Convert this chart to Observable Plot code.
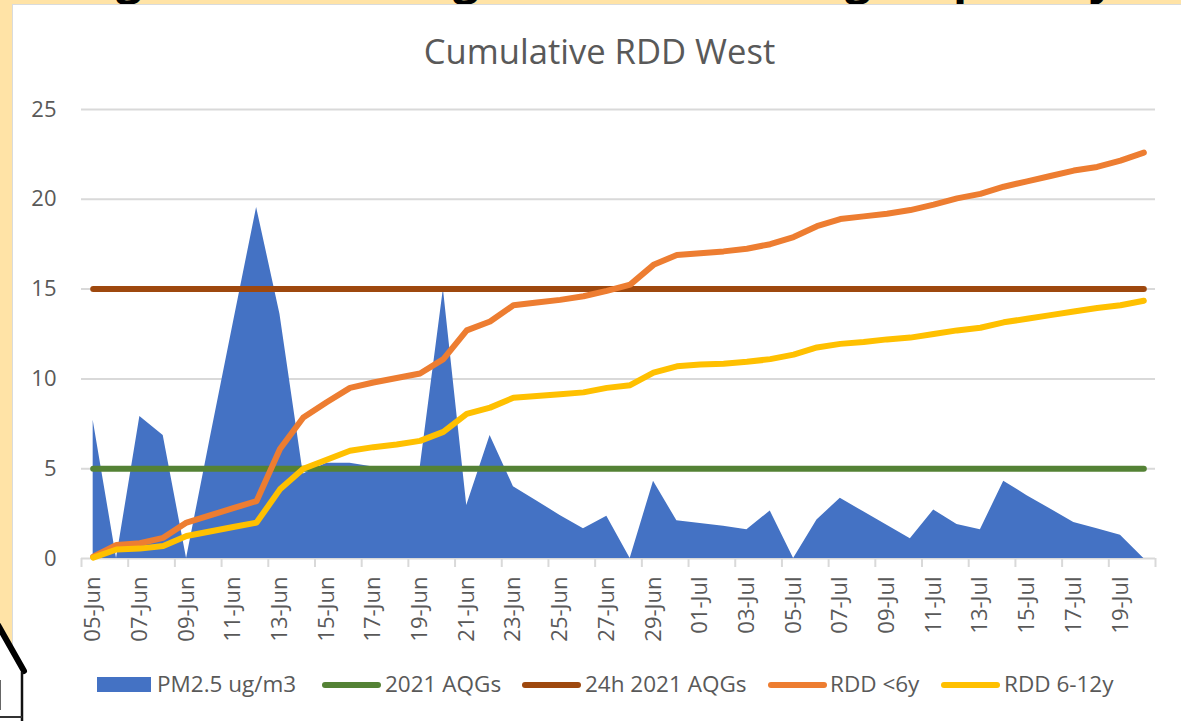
<!DOCTYPE html>
<html>
<head>
<meta charset="utf-8">
<script src="https://cdn.jsdelivr.net/npm/d3@7"></script>
<script src="https://cdn.jsdelivr.net/npm/@observablehq/plot@0.6"></script>
<style>
  html, body { margin: 0; padding: 0; background: #fff; }
  body { width: 1181px; height: 721px; overflow: hidden; position: relative; font-family: "Open Sans", sans-serif; color: #595959; }
  #strip-top { position: absolute; left: 0; top: 0; width: 1181px; height: 4px; background: #FFE3A6; overflow: hidden; }
  #strip-left { position: absolute; left: 0; top: 0; width: 12px; height: 721px; background: #FFE3A6; }
  #card { position: absolute; left: 12px; top: 4px; width: 1169px; height: 717px; background: #fff; border-left: 1.5px solid #d9dbdc; border-top: 1.5px solid #d9dbdc; box-sizing: border-box; }
  .clip { position: absolute; top: -47px; font: bold 46px "Open Sans", sans-serif; color: #000; line-height: 46px; }
  #title { position: absolute; left: 0; width: 1199px; top: 29px; text-align: center; font-size: 34.6px; line-height: 44px; color: #595959; }
  #chart { position: absolute; left: 0; top: 0; }
  #chart svg { background: transparent; }
  #house { position: absolute; left: 0; top: 610px; }
  .sw { position: absolute; }
  .line { height: 6px; top: 681.5px; border-radius: 3px; }
  .lab { position: absolute; top: 669px; font-size: 22.5px; line-height: 30px; color: #595959; white-space: nowrap; }
</style>
</head>
<body>
<div id="strip-left"></div>
<div id="card"></div>
<div id="strip-top">
  <span class="clip" style="left:116px">g</span>
  <span class="clip" style="left:453px">g</span>
  <span class="clip" style="left:845px">g</span>
  <span class="clip" style="left:953px">p</span>
  <span class="clip" style="left:1089px">y</span>
</div>
<div id="chart"></div>
<div id="title">Cumulative RDD West</div>
<svg id="house" width="32" height="111">
  <polygon points="0,13 25,61 22,111 0,111" fill="#fff"></polygon>
  <path d="M-2,15 L24,61" stroke="#000" stroke-width="6" stroke-linecap="round" fill="none"></path>
  <path d="M22,62 V111" stroke="#111" stroke-width="2.5" fill="none"></path>
  <path d="M0,107 H22" stroke="#333" stroke-width="2" fill="none"></path>
  <path d="M0,70 V100" stroke="#666" stroke-width="2" fill="none"></path>
</svg>
<div class="sw" style="left:97px;top:677px;width:54px;height:15px;background:#4472C4"></div>
<div class="lab" style="left:157px">PM2.5 ug/m3</div>
<div class="sw line" style="left:322px;width:59px;background:#548235"></div>
<div class="lab" style="left:385px">2021 AQGs</div>
<div class="sw line" style="left:522px;width:59px;background:#9E480E"></div>
<div class="lab" style="left:585px">24h 2021 AQGs</div>
<div class="sw line" style="left:768px;width:59px;background:#ED7D31"></div>
<div class="lab" style="left:830px">RDD &lt;6y</div>
<div class="sw line" style="left:941px;width:59px;background:#FFC000"></div>
<div class="lab" style="left:1004px">RDD 6-12y</div>
<script>
const firstDay = new Date(Date.UTC(2021, 5, 5));
const lastDay = new Date(Date.UTC(2021, 6, 20));
const days = d3.utcDay.range(firstDay, d3.utcDay.offset(lastDay, 1));

const pm25 = [7.7, 0, 7.9, 6.85, 0, 6.6, 13.1, 19.55, 13.6, 4.7, 5.3, 5.3, 5.1, 5.0, 5.0, 15.0,
  2.95, 6.85, 4.0, 3.2, 2.4, 1.65, 2.35, 0, 4.3, 2.1, 1.95, 1.8, 1.6, 2.65, 0, 2.15, 3.35, 2.6,
  1.85, 1.1, 2.7, 1.9, 1.6, 4.3, 3.5, 2.75, 2.0, 1.65, 1.3, 0];
const rddUnder6 = [0.1, 0.75, 0.85, 1.15, 2.0, 2.4, 2.8, 3.2, 6.1, 7.85, 8.7, 9.5, 9.8, 10.05, 10.3, 11.1,
  12.7, 13.2, 14.1, 14.25, 14.4, 14.6, 14.9, 15.25, 16.35, 16.9, 17.0, 17.1, 17.25, 17.5, 17.9, 18.5, 18.9, 19.05,
  19.2, 19.4, 19.7, 20.05, 20.3, 20.7, 21.0, 21.3, 21.6, 21.8, 22.15, 22.6];
const rdd6to12 = [0.05, 0.5, 0.55, 0.7, 1.25, 1.5, 1.75, 2.0, 3.85, 5.0, 5.5, 6.0, 6.2, 6.35, 6.55, 7.05,
  8.05, 8.4, 8.95, 9.05, 9.15, 9.25, 9.5, 9.65, 10.35, 10.7, 10.8, 10.85, 10.95, 11.1, 11.35, 11.75, 11.95, 12.05,
  12.2, 12.3, 12.5, 12.7, 12.85, 13.15, 13.35, 13.55, 13.75, 13.95, 14.1, 14.35];
const aqgAnnual = 5;
const aqg24h = 15;
const yTicks = [0, 5, 10, 15, 20, 25];

const halfDay = d => d3.utcHour.offset(d, -12);
const table = days.map((d, i) => ({
  date: d, pm: pm25[i], under6: rddUnder6[i], six12: rdd6to12[i],
  annual: aqgAnnual, daily: aqg24h
}));
const labelDays = days.filter((d, i) => i % 2 === 0);
const edges = labelDays.map(halfDay).concat([d3.utcHour.offset(lastDay, 12)]);

const grey = "#d9d9d9";
const lineOpts = (y, stroke) => ({x: "date", y, stroke, strokeWidth: 6, strokeLinecap: "round", strokeLinejoin: "round"});

const plot = Plot.plot({
  width: 1181, height: 721,
  marginLeft: 81, marginRight: 26, marginTop: 109, marginBottom: 163,
  style: {background: "transparent", fontFamily: "'Open Sans', sans-serif"},
  x: {type: "utc", domain: [edges[0], edges[edges.length - 1]]},
  y: {domain: [0, 25]},
  marks: [
    Plot.ruleY(yTicks, {stroke: grey, strokeWidth: 2}),
    Plot.axisY(yTicks, {tickSize: 0, tickPadding: 25, fontSize: 22, color: "#595959", label: null, tickFormat: d => d}),
    Plot.axisX(edges, {tickSize: 9, tickFormat: () => "", stroke: grey, strokeWidth: 2, label: null}),
    Plot.axisX(labelDays, {tickSize: 0, tickRotate: -90, tickPadding: 18, fontSize: 22, color: "#595959",
      tickFormat: d3.utcFormat("%d-%b"), label: null}),
    Plot.areaY(table, {x: "date", y: "pm", fill: "#4472C4"}),
    Plot.line(table, lineOpts("annual", "#548235")),
    Plot.line(table, lineOpts("daily", "#9E480E")),
    Plot.line(table, lineOpts("under6", "#ED7D31")),
    Plot.line(table, lineOpts("six12", "#FFC000"))
  ]
});
document.getElementById("chart").appendChild(plot);
</script>
</body>
</html>
